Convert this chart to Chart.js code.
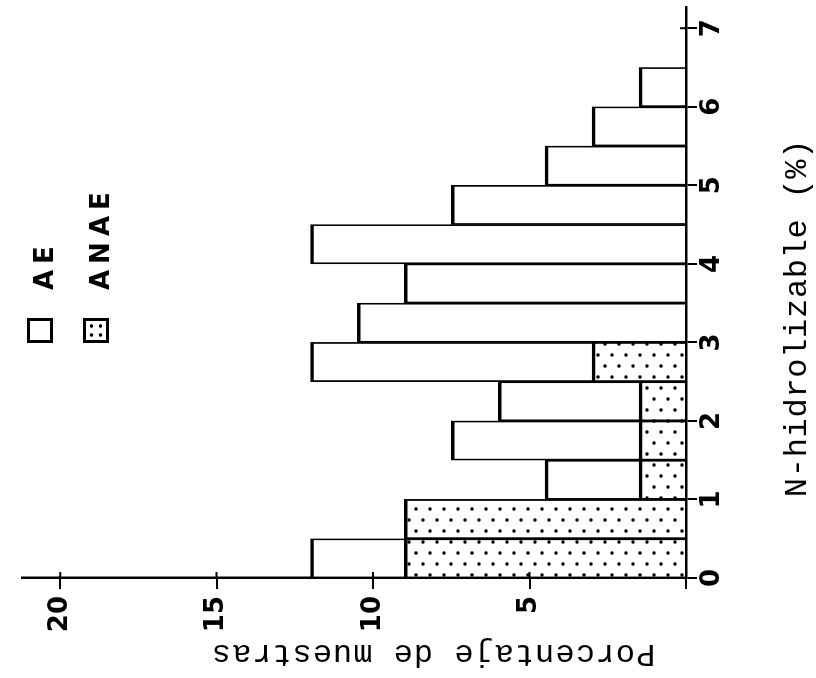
<!DOCTYPE html>
<html>
<head>
<meta charset="utf-8">
<script src="https://cdn.jsdelivr.net/npm/chart.js@4/dist/chart.umd.min.js"></script>
<style>
  html, body { margin: 0; padding: 0; overflow: hidden; background: #fff; width: 816px; height: 678px; }
  /* the figure is printed turned a quarter turn, so draw it upright and turn the canvas */
  #wrap { position: absolute; left: 69px; top: -69px; width: 678px; height: 816px; transform: rotate(-90deg); }
</style>
</head>
<body>
<div id="wrap"><canvas id="chart" width="678" height="816"></canvas></div>
<script>
// histogram bins of 0.5 % N, given by their mid points
const binMids = [0.25, 0.75, 1.25, 1.75, 2.25, 2.75, 3.25, 3.75, 4.25, 4.75, 5.25, 5.75, 6.25];
const aeValues = [12, 9, 4.5, 7.5, 6, 12, 10.5, 9, 12, 7.5, 4.5, 3, 1.5];
const anaeValues = [9, 9, 1.5, 1.5, 1.5, 3];
const seriesLabels = ['AE', 'ANAE'];
const xTitle = 'N-hidrolizable (%)';
const yTitle = 'Porcentaje de muestras';
const tickFont = { family: 'DejaVu Sans', size: 26, weight: 'bold' };

function dotPattern() {
  const c = document.createElement('canvas');
  c.width = 22; c.height = 14;
  const g = c.getContext('2d');
  g.fillStyle = '#fff';
  g.fillRect(0, 0, 22, 14);
  g.fillStyle = '#000';
  [[4, 3], [15, 10]].forEach(p => {
    g.beginPath();
    g.arc(p[0], p[1], 1.8, 0, Math.PI * 2);
    g.fill();
  });
  return g.createPattern(c, 'repeat');
}

const dots = dotPattern();
const bars = { top: 3.5, left: 1.75, right: 1.75, bottom: 0 };

const data = {
  datasets: [{
    label: seriesLabels[0],
    data: aeValues.map((v, i) => ({ x: binMids[i], y: v })),
    backgroundColor: '#fff',
    borderColor: '#000',
    borderWidth: bars,
    order: 1
  }, {
    label: seriesLabels[1],
    data: anaeValues.map((v, i) => ({ x: binMids[i], y: v })),
    backgroundColor: dots,
    borderColor: '#000',
    borderWidth: bars,
    order: 0
  }]
};

// legend, axis titles and the inner half of the tick marks, drawn by hand
const extras = {
  id: 'extras',
  afterDraw(chart) {
    const ctx = chart.ctx;
    const a = chart.chartArea;
    const sx = chart.scales.x, sy = chart.scales.y;
    ctx.save();
    ctx.fillStyle = '#000';
    ctx.strokeStyle = '#000';

    ctx.lineWidth = 2;
    ctx.beginPath();
    sx.ticks.forEach(t => {
      const p = sx.getPixelForValue(t.value);
      ctx.moveTo(p, a.bottom);
      ctx.lineTo(p, a.bottom - 6);
    });
    sy.ticks.forEach(t => {
      if (t.value === 0) return;
      const p = sy.getPixelForValue(t.value);
      ctx.moveTo(a.left, p);
      ctx.lineTo(a.left + 6, p);
    });
    ctx.stroke();

    ctx.font = '32px "Liberation Mono"';
    ctx.textAlign = 'center';
    ctx.textBaseline = 'alphabetic';
    ctx.letterSpacing = '0.7px';
    ctx.fillText(xTitle, 360, 806);
    ctx.save();
    ctx.translate(33, 433);
    ctx.rotate(-Math.PI / 2);
    ctx.letterSpacing = '1px';
    ctx.fillText(yTitle, 0, 0);
    ctx.restore();

    ctx.lineWidth = 3;
    ctx.font = 'bold 26px "DejaVu Sans"';
    ctx.textAlign = 'left';
    ctx.letterSpacing = '6px';
    chart.data.datasets.forEach((ds, i) => {
      const top = 28.5 + i * 56;
      ctx.fillStyle = '#fff';
      ctx.fillRect(336.5, top, 22, 23);
      ctx.strokeRect(336.5, top, 22, 23);
      ctx.fillStyle = '#000';
      if (ds.backgroundColor === dots) {
        [[343, top + 7], [352, top + 7], [343, top + 16], [352, top + 16]].forEach(p => {
          ctx.beginPath();
          ctx.arc(p[0], p[1], 1.8, 0, Math.PI * 2);
          ctx.fill();
        });
      }
      ctx.fillText(ds.label, 388, top + 24);
    });
    ctx.restore();
  }
};

const options = {
  responsive: false,
  animation: false,
  layout: { padding: { top: 7, right: 7, left: 0, bottom: 0 } },
  barPercentage: 1,
  categoryPercentage: 1,
  grouped: false,
  scales: {
    x: {
      type: 'linear',
      min: 0,
      max: 7.27,
      offset: false,
      grid: { offset: false, drawOnChartArea: false, color: '#000', lineWidth: 2, tickLength: 11 },
      border: { color: '#000', width: 2.5 },
      ticks: { stepSize: 1, includeBounds: false, color: '#000', font: tickFont, padding: 0, maxRotation: 0 },
      afterFit: s => { s.height = 130; }
    },
    y: {
      min: 0,
      max: 21.2,
      grid: { drawOnChartArea: false, color: '#000', lineWidth: 2, tickLength: 11 },
      border: { color: '#000', width: 2.5 },
      ticks: {
        stepSize: 5, includeBounds: false, color: '#000', font: tickFont, padding: 7,
        callback: v => (v === 0 ? '' : v)
      },
      afterFit: s => { s.width = 100; }
    }
  },
  plugins: {
    legend: { display: false },
    tooltip: { enabled: false }
  }
};

const ctx = document.getElementById('chart').getContext('2d');
const myChart = new Chart(ctx, {
  type: 'bar',
  data: data,
  options: options,
  plugins: [extras]
});
</script>
</body>
</html>
